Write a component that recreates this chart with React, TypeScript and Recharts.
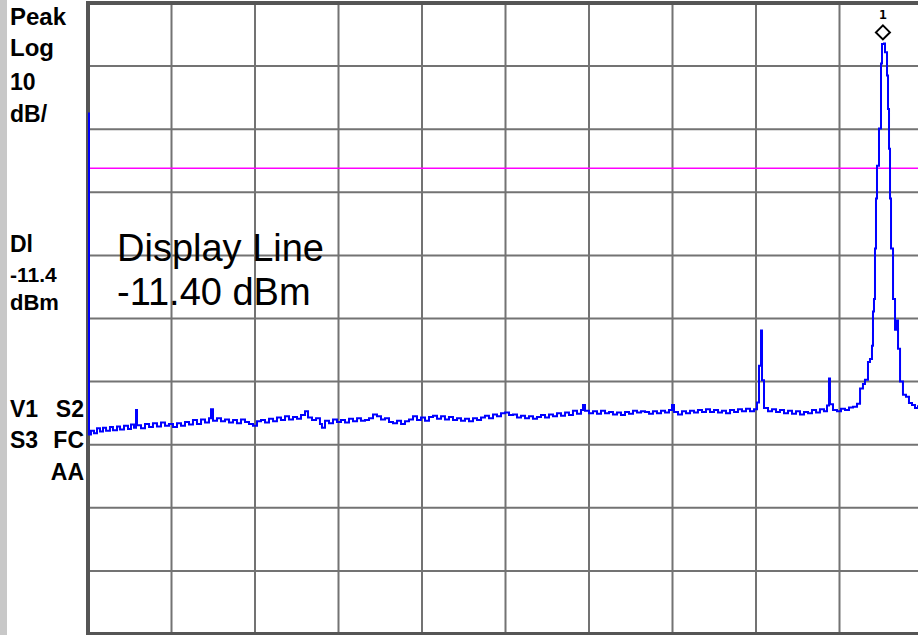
import React from "react";
import {
  ComposedChart,
  Line,
  XAxis,
  YAxis,
  CartesianGrid,
  ReferenceLine,
  ReferenceArea,
  ReferenceDot,
} from "recharts";

// Horizontal position in screen divisions (0..100, 10 per division)
const traceX: number[] = [
  0.0, 0.12, 0.36, 0.72, 1.08, 1.44, 1.8, 2.16, 2.63, 2.99, 3.47, 3.83, 4.31, 4.79, 5.15, 5.51, 5.75, 5.87,
  6.35, 6.83, 7.31, 7.78, 8.26, 8.74, 9.22, 9.7, 10.18, 10.66, 11.14, 11.62, 12.1, 12.57, 13.05, 13.53,
  14.01, 14.49, 14.73, 14.97, 15.45, 15.93, 16.41, 16.89, 17.37, 17.84, 18.32, 18.8, 19.28, 19.76, 20.24,
  20.72, 21.2, 21.68, 22.16, 22.63, 23.11, 23.59, 24.07, 24.55, 25.03, 25.51, 25.99, 26.35, 26.83, 27.31,
  27.78, 28.02, 28.38, 28.86, 29.34, 29.82, 30.3, 30.78, 31.26, 31.74, 32.22, 32.69, 33.17, 33.65, 34.13,
  34.61, 35.09, 35.57, 36.05, 36.53, 37.01, 37.49, 37.96, 38.44, 38.92, 39.4, 39.88, 40.36, 40.84, 41.32,
  41.8, 42.28, 42.75, 43.23, 43.71, 44.19, 44.67, 45.15, 45.63, 46.11, 46.59, 47.07, 47.54, 48.02, 48.5,
  48.98, 49.46, 49.94, 50.42, 50.9, 51.38, 51.86, 52.34, 52.81, 53.29, 53.77, 54.25, 54.73, 55.21, 55.69,
  56.17, 56.65, 57.13, 57.6, 58.08, 58.56, 59.04, 59.28, 59.52, 60.0, 60.48, 60.96, 61.44, 61.92, 62.4,
  62.87, 63.35, 63.83, 64.31, 64.79, 65.27, 65.75, 66.23, 66.71, 67.19, 67.66, 68.14, 68.62, 69.1, 69.58,
  69.94, 70.18, 70.66, 71.14, 71.62, 72.1, 72.57, 73.05, 73.53, 74.01, 74.49, 74.97, 75.45, 75.93, 76.41,
  76.89, 77.37, 77.84, 78.32, 78.8, 79.28, 79.76, 80.12, 80.36, 80.6, 80.72, 80.96, 81.44, 81.92, 82.4,
  82.87, 83.35, 83.83, 84.31, 84.79, 85.27, 85.75, 86.23, 86.71, 87.19, 87.66, 88.14, 88.5, 88.74, 88.86,
  89.22, 89.7, 90.18, 90.66, 91.14, 91.62, 92.1, 92.46, 92.81, 93.05, 93.41, 93.65, 93.89, 94.01, 94.13,
  94.25, 94.37, 94.49, 94.73, 94.97, 95.09, 95.33, 95.45, 95.69, 95.81, 95.93, 96.05, 96.17, 96.41, 96.65,
  96.89, 97.01, 97.25, 97.6, 97.96, 98.32, 98.68, 99.04, 99.4, 99.76, 100.0,
];

// Trace amplitude in dBm
const traceDbm: number[] = [
  -2.7, -53.6, -53.0, -53.4, -52.6, -53.1, -52.5, -53.0, -52.4, -52.9, -52.3, -52.8, -52.2, -52.7, -52.0, -52.5, -49.7, -52.1,
  -52.6, -51.9, -52.4, -51.8, -52.3, -51.7, -52.2, -51.9, -52.4, -51.8, -52.2, -51.6, -52.0, -51.3, -51.9, -51.2,
  -51.7, -51.0, -49.6, -51.4, -51.0, -51.5, -51.2, -51.7, -51.3, -51.8, -51.2, -51.6, -51.9, -52.2, -51.5,
  -51.3, -51.7, -51.1, -51.5, -50.9, -51.3, -50.7, -51.2, -50.8, -51.1, -50.5, -49.9, -50.9, -51.3, -51.0,
  -51.9, -52.5, -51.4, -51.8, -51.2, -51.6, -51.3, -51.7, -51.1, -51.5, -51.0, -51.4, -51.3, -51.0, -50.4,
  -50.7, -51.2, -51.0, -51.6, -51.8, -51.4, -51.9, -51.5, -51.2, -50.7, -51.3, -50.9, -51.4, -50.8, -50.6,
  -51.1, -50.7, -51.2, -50.8, -51.3, -51.0, -51.4, -51.1, -51.5, -51.0, -51.3, -50.9, -50.6, -51.0, -50.4,
  -50.7, -50.2, -50.1, -50.5, -50.4, -50.9, -50.6, -51.0, -50.7, -51.1, -50.8, -50.5, -50.9, -50.4, -50.7,
  -50.2, -50.6, -50.1, -50.5, -49.8, -50.3, -49.7, -48.9, -49.8, -50.2, -49.9, -50.3, -49.8, -50.2, -50.0,
  -50.4, -50.1, -50.5, -50.0, -50.3, -49.8, -50.1, -49.9, -50.0, -50.3, -49.9, -50.2, -49.8, -50.1, -49.7,
  -48.9, -50.0, -50.4, -49.9, -50.2, -49.8, -50.1, -49.7, -50.0, -49.6, -50.0, -49.7, -50.1, -49.8, -50.2,
  -49.7, -50.0, -49.6, -49.9, -49.5, -49.9, -49.6, -48.5, -42.7, -37.1, -45.0, -49.4, -49.9, -49.6, -50.0,
  -49.7, -50.2, -49.8, -50.3, -49.9, -50.4, -50.0, -50.2, -49.7, -50.1, -49.6, -49.9, -49.0, -44.7, -48.8,
  -49.7, -49.9, -49.5, -49.7, -49.3, -49.2, -48.7, -46.3, -45.6, -44.9, -42.1, -41.6, -39.5, -34.1, -32.1,
  -24.1, -16.2, -11.0, -5.1, 5.2, 8.3, 8.4, 7.0, 3.3, -2.0, -8.3, -16.2, -24.1, -32.1, -37.0,
  -35.5, -40.0, -45.2, -47.3, -47.6, -48.6, -48.9, -49.4, -49.1, -49.3, -49.2,
];

const xTicks: number[] = [0, 10, 20, 30, 40, 50, 60, 70, 80, 90, 100];
const yTicks: number[] = [-85.2, -75.2, -65.2, -55.2, -45.2, -35.2, -25.2, -15.2, -5.2, 4.8, 14.8];
const displayLineDbm = -11.4;
const markerX = 95.2;
const markerY = 8.4;

const leftLabels: { text: string; x: number; y: number; size: number; anchor: "start" | "end" }[] = [
  { text: "Peak", x: 10, y: 25, size: 24, anchor: "start" },
  { text: "Log", x: 10, y: 56, size: 24, anchor: "start" },
  { text: "10", x: 10, y: 90, size: 23, anchor: "start" },
  { text: "dB/", x: 10, y: 122, size: 23, anchor: "start" },
  { text: "Dl", x: 10, y: 252, size: 23, anchor: "start" },
  { text: "-11.4", x: 10, y: 282, size: 21, anchor: "start" },
  { text: "dBm", x: 10, y: 310, size: 22, anchor: "start" },
  { text: "V1", x: 10, y: 417, size: 23, anchor: "start" },
  { text: "S2", x: 84, y: 417, size: 23, anchor: "end" },
  { text: "S3", x: 10, y: 448, size: 23, anchor: "start" },
  { text: "FC", x: 84, y: 448, size: 23, anchor: "end" },
  { text: "AA", x: 84, y: 480, size: 23, anchor: "end" },
];

const annotation: string[] = ["Display Line", "-11.40 dBm"];

const data = traceX.map((x, i) => ({ x, y: traceDbm[i] }));

const MarkerShape = (props: any) => {
  const { cx, cy } = props;
  const c = cy - 11;
  const h = 7;
  return (
    <g>
      <polygon
        points={`${cx},${c - h} ${cx + h},${c} ${cx},${c + h} ${cx - h},${c}`}
        fill="#ffffff"
        stroke="#000000"
        strokeWidth={2}
      />
      <text
        x={cx}
        y={c - 13}
        textAnchor="middle"
        fontSize={13}
        fontWeight="bold"
        fontFamily="DejaVu Sans Mono, monospace"
        fill="#000"
      >
        1
      </text>
    </g>
  );
};

export default function App() {
  return (
    <div
      style={{
        position: "absolute",
        left: 0,
        top: 0,
        width: 918,
        height: 635,
        overflow: "hidden",
        background: "#ffffff",
      }}
    >
      <div style={{ position: "absolute", left: 0, top: 0, width: 7, height: 635, background: "#c8c8c8" }} />
      <div style={{ position: "absolute", left: 0, top: 0 }}>
        <ComposedChart
          width={930}
          height={636}
          data={data}
          margin={{ top: 3, right: 7, bottom: 2, left: 88 }}
        >
          <XAxis dataKey="x" type="number" domain={[0, 100]} ticks={xTicks} hide />
          <YAxis type="number" domain={[-85.2, 14.8]} ticks={yTicks} hide />
          <CartesianGrid stroke="#737373" strokeWidth={2} />
          <ReferenceArea
            x1={0}
            x2={100}
            y1={-85.2}
            y2={14.8}
            fill="none"
            fillOpacity={0}
            stroke="#555555"
            strokeWidth={4}
            ifOverflow="visible"
          />
          <ReferenceLine y={displayLineDbm} stroke="#ff00ff" strokeWidth={1.5} />
          <Line
            type="stepAfter"
            dataKey="y"
            stroke="#0000ff"
            strokeWidth={2}
            dot={false}
            isAnimationActive={false}
          />
          <ReferenceDot x={markerX} y={markerY} r={7} shape={MarkerShape} ifOverflow="visible" />
        </ComposedChart>
      </div>
      <svg
        width={918}
        height={635}
        style={{ position: "absolute", left: 0, top: 0, pointerEvents: "none" }}
      >
        {leftLabels.map((l) => (
          <text
            key={l.text + l.y}
            x={l.x}
            y={l.y}
            fontSize={l.size}
            fontWeight="bold"
            fontFamily="Liberation Sans, Arial, sans-serif"
            textAnchor={l.anchor}
            fill="#000"
          >
            {l.text}
          </text>
        ))}
        <text x={117} y={261} fontSize={38} fontFamily="Liberation Sans, Arial, sans-serif" fill="#000">
          {annotation[0]}
        </text>
        <text x={117} y={305} fontSize={38} fontFamily="Liberation Sans, Arial, sans-serif" fill="#000">
          {annotation[1]}
        </text>
      </svg>
    </div>
  );
}
